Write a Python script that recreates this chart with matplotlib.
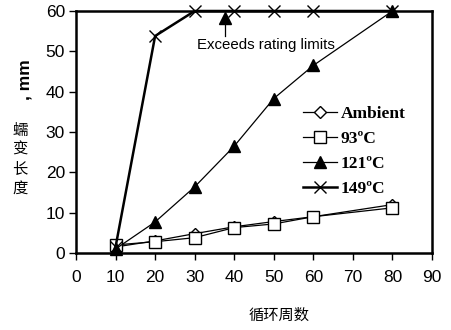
import matplotlib
matplotlib.use("Agg")
import matplotlib.pyplot as plt

cycles = [10, 20, 30, 40, 50, 60, 80]
ambient = [1.5, 3.0, 4.8, 6.5, 7.8, 9.0, 12.0]
t93 = [2.0, 2.8, 3.8, 6.3, 7.2, 9.0, 11.2]
t121 = [1.0, 7.7, 16.4, 26.5, 38.3, 46.5, 60.0]
t149 = [1.5, 53.8, 60.0, 60.0, 60.0, 60.0, 60.0]
labels = ["Ambient", "93ºC", "121ºC", "149ºC"]
xticks = [0, 10, 20, 30, 40, 50, 60, 70, 80, 90]
yticks = [0, 10, 20, 30, 40, 50, 60]
ylabel_chars = ["蠕", "变", "长", "度"]

fig = plt.figure(figsize=(4.52, 3.30), dpi=100)
ax = fig.add_axes([76/452, 1-253/330, (432-76)/452, (253-11)/330])

kw = dict(color="black", markerfacecolor="white", markeredgecolor="black", clip_on=False)
ax.plot(cycles, ambient, marker="D", markersize=6, lw=0.9, label=labels[0], **kw)
ax.plot(cycles, t93, marker="s", markersize=8, lw=0.9, label=labels[1], **kw)
ax.plot(cycles, t121, marker="^", markersize=9, lw=0.9, color="black", label=labels[2], clip_on=False, zorder=4)
ax.plot(cycles, t149, marker="x", markersize=8, lw=1.8, color="black", label=labels[3], clip_on=False, markeredgewidth=1.0)

# annotation: filled triangle with stem
ax.plot([37.6, 37.6], [53.8, 57.5], color="black", lw=0.9)
ax.plot([37.6], [58.3], marker="^", markersize=8, color="black", linestyle="none")
ax.text(48.0, 51.5, "Exceeds rating limits", ha="center", va="center", fontsize=10.8,
        family="Liberation Sans")

ax.set_xlim(0, 90)
ax.set_ylim(0, 60)
ax.set_xticks(xticks)
ax.set_yticks(yticks)
for s in ax.spines.values():
    s.set_linewidth(1.8)
ax.tick_params(direction="out", length=5, width=1, labelsize=12.5, pad=7)
for lab in ax.get_xticklabels() + ax.get_yticklabels():
    lab.set_family("Liberation Sans")
ax.tick_params(axis="y", pad=3)

leg = ax.legend(loc="upper left", bbox_to_anchor=(0.612, 0.642), frameon=False,
                prop=dict(family="Liberation Serif", weight="bold", size=12.5),
                handlelength=2.0, handletextpad=0.2, labelspacing=0.5, borderpad=0)

fig.text(279/452, 1-315/330, "循环周数", ha="center", va="center", fontsize=11,
         family=["Noto Sans CJK SC", "DejaVu Sans"])
for i, ch in enumerate(ylabel_chars):
    fig.text(20/452, 1-(130 + i*19.5)/330, ch, ha="center", va="center", fontsize=11,
             family=["Noto Sans CJK SC", "DejaVu Sans"])
fig.text(25/452, 1-80/330, ", mm", ha="center", va="center", fontsize=12.5, rotation=90,
         family="Liberation Sans", weight="bold")

fig.savefig("out.png", dpi=100)
